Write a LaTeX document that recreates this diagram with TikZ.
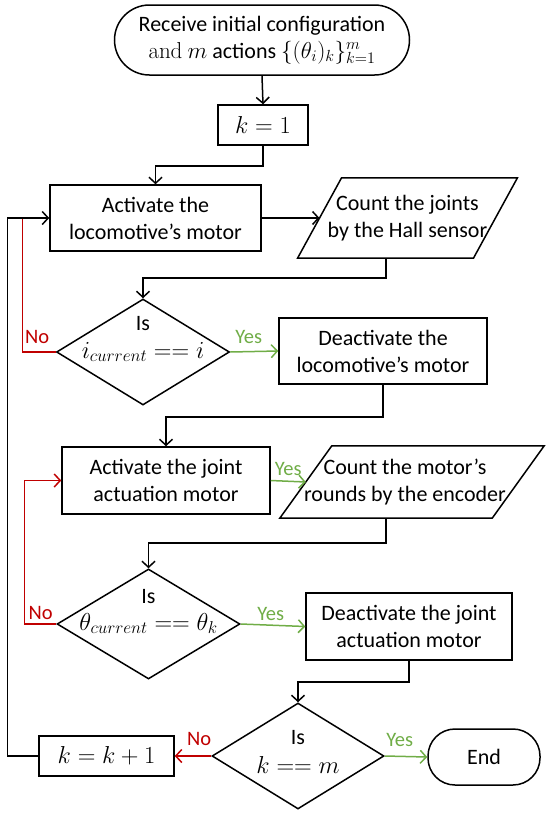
\RequirePackage{fix-cm}
\documentclass[tikz,border=0pt]{standalone}
\usepackage[no-math]{fontspec}
\setmainfont{Carlito}
\usetikzlibrary{arrows.meta,calc,shapes.geometric}
\definecolor{nored}{RGB}{192,0,0}
\definecolor{yesgreen}{RGB}{112,173,71}
\newcommand\mainfs{\fontsize{22}{27}\selectfont}
\newcommand\mathfs{\fontsize{24.5}{27}\selectfont}
\newcommand\startmathfs{\fontsize{23}{27}\selectfont}
\newcommand\lblfs{\fontsize{20.5}{24}\selectfont}
\tikzset{
  proc/.style={draw, rectangle, line width=1.5pt, align=center, inner sep=0pt, font=\mainfs},
  iobox/.style={rectangle, align=center, inner sep=0pt, font=\mainfs},
  dec/.style={draw, diamond, line width=1.5pt, inner sep=0pt},
  dtext/.style={anchor=base, inner sep=0pt, font=\mainfs},
  arr/.style={-{Straight Barb[length=6pt,width=13pt]}, line width=1.5pt},
  plain/.style={line width=1.5pt},
  lbl/.style={inner sep=0pt, font=\lblfs},
  nolbl/.style={lbl, text=nored},
  yeslbl/.style={lbl, text=yesgreen},
}
\begin{document}
\begin{tikzpicture}[x=1pt,y=-1pt]
\useasboundingbox (0,0) rectangle (550,815);

% nodes
\node[proc, rounded corners=35pt, minimum width=295pt, minimum height=70pt] (start) at (262,40)
  {Receive initial configuration\\{\startmathfs$\mathrm{and}\ m$} actions {\startmathfs$\{(\theta_i)_k\}_{k=1}^{m}$}};
\node[proc, font=\mathfs, minimum width=90pt, minimum height=40pt] (k1) at (263,125) {$k=1$};
\node[proc, minimum width=211pt, minimum height=66pt] (b1) at (155.5,218) {Activate the\\locomotive’s motor};
\node[iobox, minimum width=175.5pt, minimum height=80pt] (p1) at (407.5,218) {Count the joints\\by the Hall sensor};
\draw[plain] ($(p1.north west)+(22,0)$) -- ($(p1.north east)+(22,0)$) -- ($(p1.south east)+(-22,0)$) -- ($(p1.south west)+(-22,0)$) -- cycle;
\node[dec, minimum width=173pt, minimum height=106pt] (d1) at (143,352) {};
\node[dtext] (d1a) at ($(d1.center)+(0,-22)$) {Is};
\node[dtext, font=\mathfs] (d1b) at ($(d1.center)+(0,6)$) {$i_{current} == i$};
\node[proc, minimum width=208pt, minimum height=66pt] (de1) at (383,351) {Deactivate the\\locomotive’s motor};
\node[proc, minimum width=208pt, minimum height=67pt] (b2) at (166,480.5) {Activate the joint\\actuation motor};
\node[iobox, minimum width=212pt, minimum height=72pt] (p2) at (412,482) {};
\node[iobox] (p2t) at ($(p2.center)+(-7,0)$) {Count the motor’s\\rounds by the encoder};
\draw[plain] ($(p2.north west)+(26,0)$) -- ($(p2.north east)+(26,0)$) -- ($(p2.south east)+(-26,0)$) -- ($(p2.south west)+(-26,0)$) -- cycle;
\node[dec, minimum width=183pt, minimum height=110pt] (d2) at (148.5,624) {};
\node[dtext] (d2a) at ($(d2.center)+(0,-21)$) {Is};
\node[dtext, font=\mathfs] (d2b) at ($(d2.center)+(0,6)$) {$\theta_{current} == \theta_k$};
\node[proc, minimum width=206pt, minimum height=67pt] (de2) at (409,626.5) {Deactivate the joint\\actuation motor};
\node[dec, minimum width=172pt, minimum height=106pt] (d3) at (298,756) {};
\node[dtext] (d3a) at ($(d3.center)+(0,-12)$) {Is};
\node[dtext, font=\mathfs] (d3b) at ($(d3.center)+(0,17)$) {$k == m$};
\node[proc, font=\mathfs, minimum width=135pt, minimum height=40pt] (k2) at (106.5,756) {$k=k+1$};
\node[proc, rounded corners=27pt, minimum width=112pt, minimum height=56pt] (endn) at (484,757) {End};

% connectors
\draw[arr] (start.south) -- (k1.north);
\draw[arr] (k1.south) -- ++(0,20) -| (b1.north);
\draw[arr] (b1.east) -- (p1.west);
\draw[arr] ($(p1.south)+(-21.5,0)$) -- ++(0,20) -| (d1.north);
\draw[arr, yesgreen] (d1.east) -- (de1.west);
\coordinate (j1) at ($(b1.west)+(-27,0)$);
\draw[plain, nored] (d1.west) -| (j1);
\draw[arr] (de1.south) -- ++(0,32) -| (b2.north);
\draw[arr, yesgreen] (b2.east) -- (p2.west);
\draw[arr] ($(p2.south)+(-26,0)$) -- ++(0,25) -| (d2.north);
\draw[arr, yesgreen] (d2.east) -- (de2.west);
\draw[arr, nored] (d2.west) -- ++(-32,0) |- (b2.west);
\draw[arr] (de2.south) -- ++(0,21) -| (d3.north);
\draw[arr, yesgreen] (d3.east) -- (endn.west);
\draw[arr, nored] (d3.west) -- (k2.east);
\draw[arr] (k2.west) -- ++(-31,0) |- (b1.west);

% labels
\node[nolbl] (no1) at ($(d1.west)+(-18.5,-15)$) {No};
\node[yeslbl] (yes1) at ($(d1.east)+(18.5,-15)$) {Yes};
\node[yeslbl] (yes2) at ($(b2.east)+(17.5,-12)$) {Yes};
\node[nolbl] (no2) at ($(d2.west)+(-15.5,-11)$) {No};
\node[yeslbl] (yes3) at ($(d2.east)+(30,-10)$) {Yes};
\node[yeslbl] (yes4) at ($(d3.east)+(15,-16)$) {Yes};
\node[nolbl] (no3) at ($(d3.west)+(-12,-17)$) {No};
\end{tikzpicture}
\end{document}
